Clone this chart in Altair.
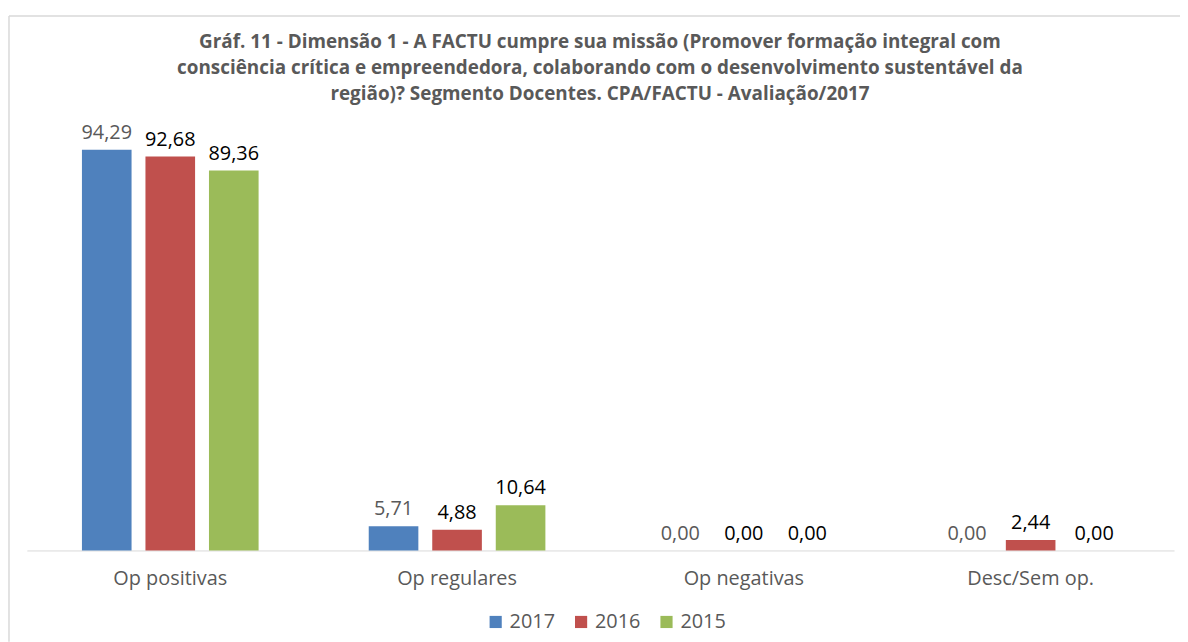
import altair as alt
import pandas as pd

categories = ["Op positivas", "Op regulares", "Op negativas", "Desc/Sem op."]
years = ["2017", "2016", "2015"]
v2017 = [94.29, 5.71, 0.00, 0.00]
v2016 = [92.68, 4.88, 0.00, 2.44]
v2015 = [89.36, 10.64, 0.00, 0.00]
colors = ["#4F81BD", "#C0504D", "#9BBB59"]
title_lines = [
    "Gráf. 11 - Dimensão 1 -  A FACTU cumpre sua missão (Promover formação integral com",
    "consciência crítica e empreendedora, colaborando com o desenvolvimento sustentável da",
    "região)? Segmento Docentes. CPA/FACTU - Avaliação/2017",
]

rows = []
for yr, vals in zip(years, [v2017, v2016, v2015]):
    for c, v in zip(categories, vals):
        rows.append({"cat": c, "year": yr, "v": v})
df = pd.DataFrame(rows)

FONT = "Open Sans"
GRAY = "#595959"

x = alt.X("cat:N", sort=categories, title=None,
          scale=alt.Scale(paddingInner=0, paddingOuter=0),
          axis=alt.Axis(labelAngle=0, ticks=False, domainColor="#D9D9D9",
                        labelFontSize=20, labelColor=GRAY, labelFont=FONT,
                        labelPadding=18, grid=False))
xo = alt.XOffset("year:N", sort=years,
                 scale=alt.Scale(paddingInner=0.21875, paddingOuter=0.867))
y = alt.Y("v:Q", scale=alt.Scale(domain=[0, 100]), axis=None)

base = alt.Chart(df)
bars = base.mark_bar().encode(
    x=x, xOffset=xo, y=y,
    color=alt.Color("year:N", sort=years,
                    scale=alt.Scale(domain=years, range=colors),
                    legend=alt.Legend(title=None, orient="none", direction="horizontal",
                                      legendX=462, legendY=490, symbolType="square",
                                      symbolSize=150, symbolStrokeWidth=0,
                                      labelFontSize=20, labelColor=GRAY, labelFont=FONT,
                                      columnPadding=16, padding=0)),
)
labels = base.mark_text(baseline="bottom", dy=-7, fontSize=20, font=FONT).transform_calculate(
    lab="replace(format(datum.v, '.2f'), '.', ',')"
).encode(
    x=x, xOffset=xo, y=y, text="lab:N",
    color=alt.condition(alt.datum.year == "2017", alt.value(GRAY), alt.value("#000000")),
)

one = pd.DataFrame({"a": [0]})
frame_top = alt.Chart(one).mark_rule(color="#D9D9D9", strokeWidth=1.5).encode(
    x=alt.value(-18), x2=alt.value(1170), y=alt.value(-110)
)
frame_left = alt.Chart(one).mark_rule(color="#D9D9D9", strokeWidth=1.5).encode(
    x=alt.value(-18), y=alt.value(-110), y2=alt.value(520)
)
title = alt.Chart(one).mark_text(
    text=title_lines, font=FONT, fontSize=19, fontWeight="bold", color=GRAY,
    lineHeight=26, align="center", baseline="alphabetic",
).encode(x=alt.value(577), y=alt.value(-78))

chart = alt.layer(frame_top, frame_left, title, bars, labels).properties(
    width=1155, height=428,
    autosize=alt.AutoSizeParams(type="none"),
    padding={"left": 19, "top": 116, "right": 6, "bottom": 90},
).configure_view(stroke=None)

chart.save("out.html", embed_options={"renderer": "svg", "actions": False})
